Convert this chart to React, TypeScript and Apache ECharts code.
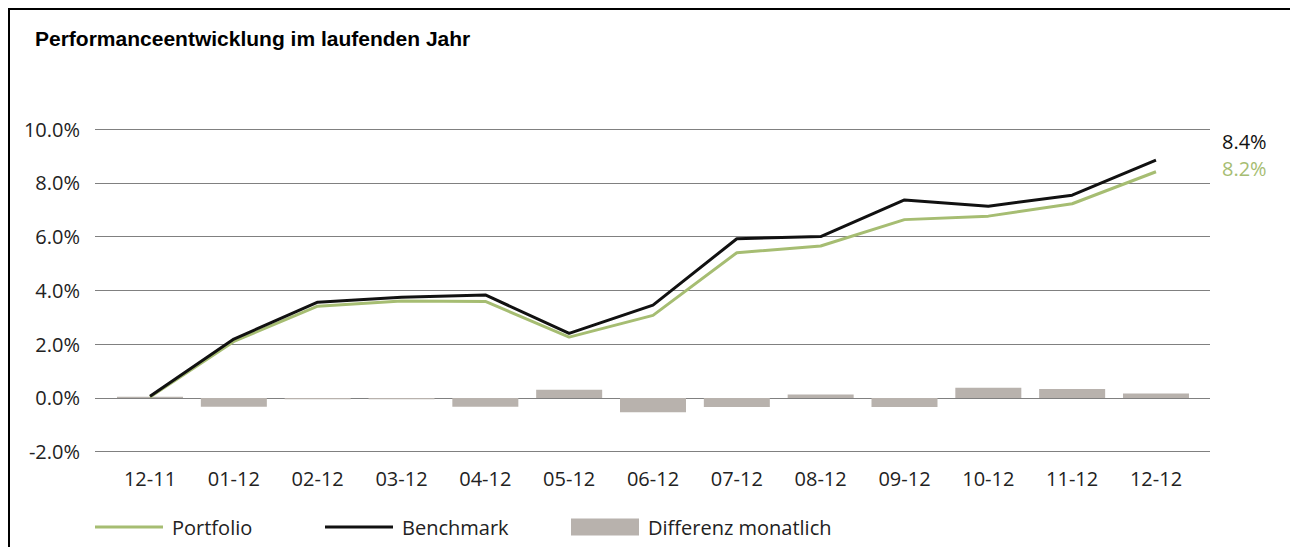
import React, { useEffect, useRef } from "react";
import * as echarts from "echarts";

const titleText = "Performanceentwicklung im laufenden Jahr";
const categories = ["12-11", "01-12", "02-12", "03-12", "04-12", "05-12", "06-12", "07-12", "08-12", "09-12", "10-12", "11-12", "12-12"];
const portfolio = [0.03, 2.1, 3.41, 3.6, 3.59, 2.26, 3.07, 5.4, 5.65, 6.63, 6.76, 7.22, 8.41];
const benchmark = [0.06, 2.19, 3.56, 3.74, 3.83, 2.4, 3.45, 5.92, 6.0, 7.36, 7.13, 7.54, 8.84];
const difference = [0.04, -0.33, -0.05, -0.05, -0.33, 0.3, -0.53, -0.34, 0.13, -0.34, 0.38, 0.33, 0.16];
const endLabels = { portfolio: "8.2%", benchmark: "8.4%" };
const yTicks = { min: -2, max: 10, interval: 2 };

const GREEN = "#a6bd72";
const BLACK = "#111111";
const GREY = "#b8b2ad";
const FONT = "'Open Sans', 'Noto Sans', sans-serif";
const TXT = "#222222";
const LINE_ICON = "path://M0 0 H68 V3 H0 Z";

export default function App() {
  const ref = useRef<HTMLDivElement>(null);
  useEffect(() => {
    if (!ref.current) return;
    const chart = echarts.init(ref.current, null, { renderer: "svg" });
    const gridTop = 119;
    const gridBottom = 95.3;
    const legendBase = {
      top: 502,
      itemWidth: 68,
      itemHeight: 17,
      selectedMode: false,
      textStyle: { fontFamily: FONT, fontSize: 20, color: TXT, padding: [0, 0, 0, 4] },
    };
    chart.setOption({
      animation: false,
      title: {
        text: titleText,
        left: 20,
        top: 13,
        textStyle: { fontFamily: "'Liberation Sans', Arial, sans-serif", fontWeight: "bold", fontSize: 21, color: "#000" },
      },
      legend: [
        { ...legendBase, left: 80, data: [{ name: "Portfolio", icon: LINE_ICON }] },
        { ...legendBase, left: 310, data: [{ name: "Benchmark", icon: LINE_ICON }] },
        { ...legendBase, left: 556, data: [{ name: "Differenz monatlich", icon: "rect" }] },
      ],
      grid: [
        { left: 85, right: 82, top: gridTop, bottom: gridBottom },
        { left: 98.1, right: 94.1, top: gridTop, bottom: gridBottom },
      ],
      xAxis: [
        { type: "category", gridIndex: 0, data: categories, show: false },
        {
          type: "category",
          gridIndex: 1,
          data: categories,
          axisLine: { show: false },
          axisTick: { show: false },
          axisLabel: { margin: 17, fontSize: 20, fontFamily: FONT, color: TXT },
        },
      ],
      yAxis: [
        {
          type: "value",
          gridIndex: 0,
          min: yTicks.min,
          max: yTicks.max,
          interval: yTicks.interval,
          axisLine: { show: false },
          axisTick: { show: false },
          axisLabel: {
            margin: 15,
            fontSize: 20,
            fontFamily: FONT,
            color: TXT,
            formatter: (v: number) => v.toFixed(1) + "%",
          },
          splitLine: { lineStyle: { color: "#808080", width: 1 } },
        },
        { type: "value", gridIndex: 1, min: yTicks.min, max: yTicks.max, interval: yTicks.interval, show: false },
      ],
      series: [
        {
          name: "Differenz monatlich",
          type: "bar",
          xAxisIndex: 1,
          yAxisIndex: 1,
          data: difference,
          barWidth: 66,
          itemStyle: { color: GREY },
        },
        {
          name: "Portfolio",
          type: "line",
          xAxisIndex: 1,
          yAxisIndex: 1,
          data: portfolio,
          symbol: "none",
          lineStyle: { color: GREEN, width: 3 },
          itemStyle: { color: GREEN },
          endLabel: {
            show: true,
            formatter: () => endLabels.portfolio,
            offset: [58, -3],
            color: GREEN,
            fontSize: 20,
            fontFamily: FONT,
          },
        },
        {
          name: "Benchmark",
          type: "line",
          xAxisIndex: 1,
          yAxisIndex: 1,
          data: benchmark,
          symbol: "none",
          lineStyle: { color: BLACK, width: 3 },
          itemStyle: { color: BLACK },
          endLabel: {
            show: true,
            formatter: () => endLabels.benchmark,
            offset: [58, -19],
            color: BLACK,
            fontSize: 20,
            fontFamily: FONT,
          },
        },
      ],
    });
    return () => chart.dispose();
  }, []);
  return (
    <div
      style={{
        width: 1286,
        height: 539,
        boxSizing: "border-box",
        borderTop: "2px solid #000",
        borderLeft: "2px solid #000",
        borderRight: "2px solid #000",
        background: "#fff",
      }}
    >
      <div ref={ref} style={{ width: 1282, height: 537 }} />
    </div>
  );
}
